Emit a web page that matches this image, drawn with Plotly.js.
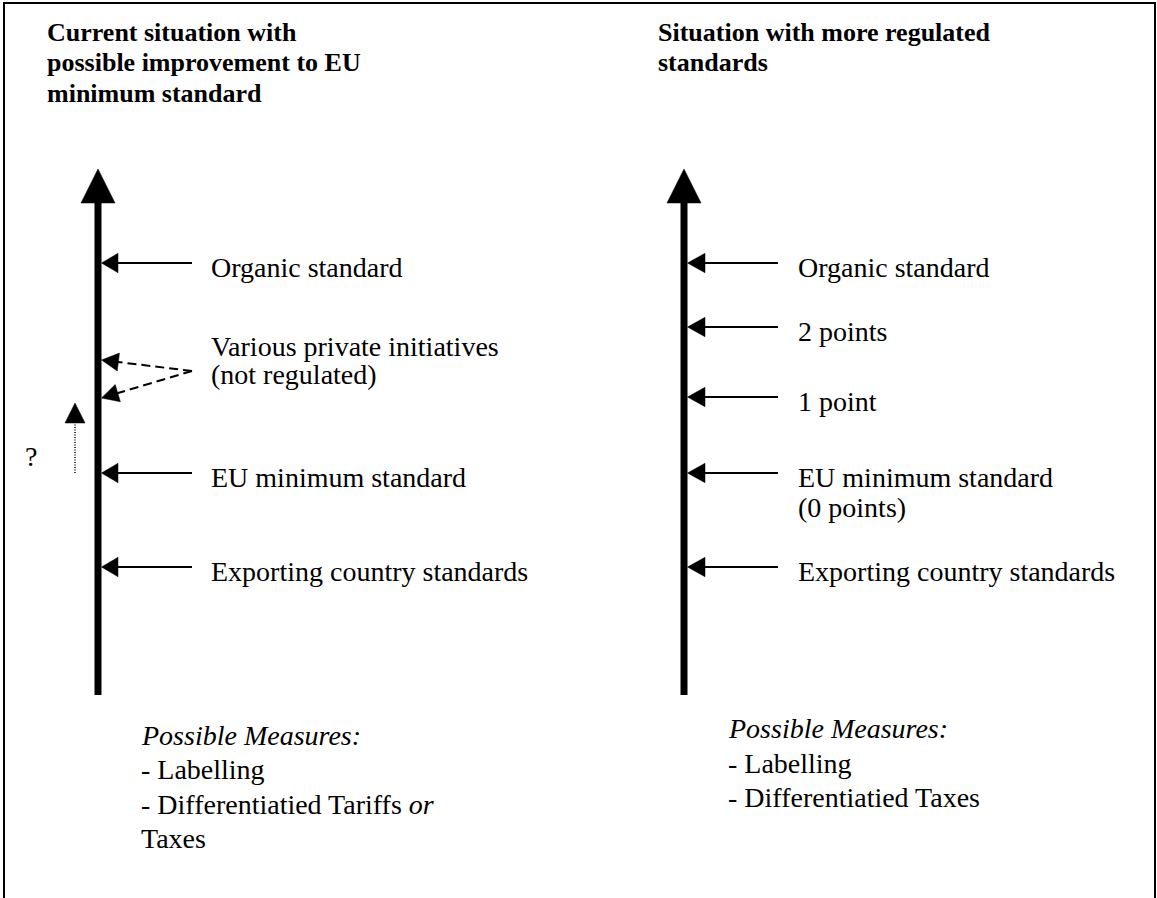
<!DOCTYPE html>
<html>
<head>
<meta charset="utf-8">
<script src="https://cdn.plot.ly/plotly-3.0.1.min.js"></script>
<style>
  html, body { margin: 0; padding: 0; background: #ffffff; }
  #chart { width: 1157px; height: 898px; }
</style>
</head>
<body>
<div id="chart"></div>
<script>
// ---- Texts ----
const titleLeft = ["Current situation with", "possible improvement to EU", "minimum standard"];
const titleRight = ["Situation with more regulated", "standards"];

const leftStandards = ["Organic standard", "EU minimum standard", "Exporting country standards"];
const leftStandardLevel = [263, 473, 567];

const privateLines = ["Various private initiatives", "(not regulated)"];
const privateTargetLevel = [360, 398];
const privateSourceLevel = 371;

const rightStandards = ["Organic standard", "2 points", "1 point", "EU minimum standard", "Exporting country standards"];
const rightStandardLevel = [263, 327, 397, 473, 567];
const rightExtraLine = "(0 points)";

const measuresLeft = ["<i>Possible Measures:</i>", "- Labelling", "- Differentiatied Tariffs <i>or</i>", "Taxes"];
const measuresRight = ["<i>Possible Measures:</i>", "- Labelling", "- Differentiatied Taxes"];

const questionMark = "?";

// ---- Layout geometry (pixel space of the figure) ----
const W = 1157, H = 898;
const FS = 28;        // body text
const FS_TITLE = 26;  // bold headings
const FONT = "Liberation Serif, Times New Roman, Times, serif";
const LABEL_DROP = 14;       // arrow level -> label baseline

const colL = {shaft: 98, tip: 101.5, headBase: 118, tail: 192, text: 210, title: 46, measures: 140};
const colR = {shaft: 684, tip: 687.5, headBase: 705, tail: 778, text: 797, title: 657, measures: 727};
const shaftTop = 200, shaftBottom = 695, bigTip = 169, bigBase = 203, bigHalf = 17;

const shapes = [];
const annotations = [];

function tri(tx, ty, fx, fy, len, half) {
  const dx = tx - fx, dy = ty - fy, L = Math.hypot(dx, dy);
  const ux = dx / L, uy = dy / L;
  const bx = tx - ux * len, by = ty - uy * len;
  const px = -uy, py = ux;
  return `M${tx},${ty} L${bx + px * half},${by + py * half} L${bx - px * half},${by - py * half} Z`;
}
function addPath(p, fill) {
  shapes.push({type: "path", xref: "x", yref: "y", path: p,
    fillcolor: fill || "rgba(0,0,0,0)", line: {color: "#000", width: fill ? 0.5 : 2}});
}
function addLine(x0, y0, x1, y1, w, dash) {
  shapes.push({type: "line", xref: "x", yref: "y", x0, y0, x1, y1,
    line: {color: "#000", width: w, dash: dash || "solid"}});
}
function addText(txt, x, baseline, bold) {
  const fs = bold ? FS_TITLE : FS;
  annotations.push({xref: "x", yref: "y", x: x, y: baseline - 0.3375 * fs,
    xanchor: "left", yanchor: "middle", showarrow: false, borderpad: 0,
    text: bold ? "<b>" + txt + "</b>" : txt,
    font: {family: FONT, size: fs, color: "#000"}});
}

// frame (open at the bottom)
addPath(`M4,${H} L4,3 L1155,3 L1155,${H}`);

// big vertical axes
[colL, colR].forEach(c => {
  addLine(c.shaft, shaftTop, c.shaft, shaftBottom, 7);
  addPath(tri(c.shaft, bigTip, c.shaft, bigBase, bigBase - bigTip, bigHalf), "#000");
});

// horizontal arrows + labels
function hArrow(c, y) {
  addLine(c.tail, y, c.headBase - 2, y, 2);
  addPath(tri(c.tip, y, c.headBase, y, c.headBase - c.tip, 9.7), "#000");
}
leftStandards.forEach((s, i) => {
  hArrow(colL, leftStandardLevel[i]);
  addText(s, colL.text, leftStandardLevel[i] + LABEL_DROP);
});
rightStandards.forEach((s, i) => {
  hArrow(colR, rightStandardLevel[i]);
  addText(s, colR.text, rightStandardLevel[i] + LABEL_DROP);
});
addText(rightExtraLine, colR.text, rightStandardLevel[3] + LABEL_DROP + 30);

// dashed arrows for private initiatives
privateTargetLevel.forEach(ty => {
  const dx = colL.tip - colL.tail, dy = ty - privateSourceLevel, L = Math.hypot(dx, dy);
  const ex = colL.tip - dx / L * 15, ey = ty - dy / L * 15;
  addLine(colL.tail, privateSourceLevel, ex, ey, 2, "9px,5px");
  addPath(tri(colL.tip, ty, colL.tail, privateSourceLevel, 17, 9), "#000");
});
addText(privateLines[0], colL.text, 356);
addText(privateLines[1], colL.text, 384);

// dotted improvement arrow with question mark
addLine(75, leftStandardLevel[1], 75, 422, 1.5, "1px,1.5px");
addPath(tri(75, 403, 75, 423, 20, 10), "#000");
addText(questionMark, 24, 466);

// titles
titleLeft.forEach((t, i) => addText(t, colL.title, 41 + i * 30.5, true));
titleRight.forEach((t, i) => addText(t, colR.title, 41 + i * 30.5, true));

// measures
measuresLeft.forEach((t, i) => addText(t, colL.measures, 745 + i * 34.3));
measuresRight.forEach((t, i) => addText(t, colR.measures, 738 + i * 34.5));

const layout = {
  width: W, height: H,
  margin: {l: 0, r: 0, t: 0, b: 0, pad: 0},
  paper_bgcolor: "#ffffff", plot_bgcolor: "#ffffff",
  showlegend: false,
  xaxis: {range: [0, W], visible: false, fixedrange: true},
  yaxis: {range: [H, 0], visible: false, fixedrange: true},
  shapes: shapes,
  annotations: annotations
};

Plotly.newPlot("chart", [{x: [], y: [], type: "scatter", mode: "markers", hoverinfo: "skip"}], layout,
  {displayModeBar: false, staticPlot: true});
</script>
</body>
</html>
